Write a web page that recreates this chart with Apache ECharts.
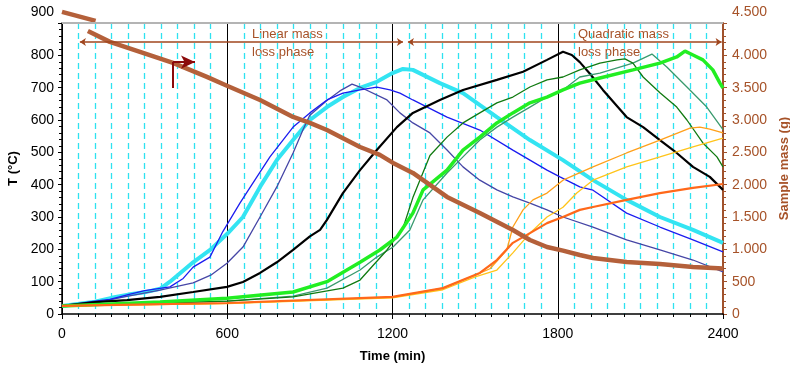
<!DOCTYPE html>
<html>
<head>
<meta charset="utf-8">
<script src="https://cdn.jsdelivr.net/npm/echarts@6/dist/echarts.min.js"></script>
<style>
  html, body { margin: 0; padding: 0; background: #fff; }
  #chart { width: 790px; height: 367px; }
</style>
</head>
<body>
<div id="chart"></div>
<script>
// temperature runs, [time (min), T (°C)]
var tempCyan = [[0,25],[120,38],[180,50],[240,60],[300,67],[356,78],[392,100],[476,160],[540,200],[600,248],[657,300],[719,393],[780,476],[839,538],[900,600],[962,640],[1020,671],[1082,699],[1143,718],[1200,745],[1238,758],[1274,755],[1372,714],[1456,683],[1579,609],[1699,538],[1819,476],[1928,414],[2050,353],[2171,300],[2291,260],[2400,220]];
var tempBlue = [[0,25],[120,40],[174,45],[240,60],[300,72],[392,84],[440,110],[476,145],[537,176],[584,255],[646,343],[693,405],[755,486],[839,578],[900,622],[962,662],[1020,683],[1082,693],[1143,702],[1191,693],[1227,683],[1274,662],[1398,609],[1517,569],[1637,507],[1761,445],[1808,424],[1880,393],[1928,383],[2050,312],[2171,269],[2291,229],[2400,192]];
var tempNavy = [[0,25],[120,35],[240,55],[356,74],[476,96],[540,120],[599,157],[657,207],[719,300],[780,393],[839,498],[875,570],[900,615],[962,660],[1009,690],[1053,711],[1082,702],[1180,662],[1227,622],[1274,591],[1336,560],[1398,507],[1456,455],[1517,414],[1579,384],[1637,362],[1699,343],[1761,322],[1819,300],[1928,269],[2050,229],[2171,198],[2291,167],[2400,130]];
var tempBlack = [[0,25],[120,37],[236,43],[356,53],[476,68],[599,84],[657,99],[719,127],[780,160],[839,198],[900,240],[937,260],[962,291],[1020,374],[1082,445],[1143,507],[1216,578],[1274,622],[1372,662],[1456,693],[1579,724],[1674,749],[1761,786],[1819,811],[1851,801],[1880,779],[1920,740],[1964,693],[2050,609],[2110,578],[2171,538],[2232,498],[2291,455],[2352,424],[2400,384]];
var tempLime = [[0,25],[356,37],[599,49],[839,68],[962,100],[1082,160],[1154,198],[1216,238],[1274,312],[1311,384],[1398,445],[1456,507],[1517,547],[1579,591],[1637,622],[1699,653],[1761,671],[1819,693],[1880,714],[1953,730],[2073,755],[2171,776],[2232,795],[2262,813],[2291,801],[2327,786],[2363,755],[2389,714],[2400,699]];
var tempDarkGreen = [[0,25],[600,40],[839,53],[1020,80],[1082,105],[1180,198],[1238,265],[1274,360],[1336,490],[1398,547],[1456,591],[1517,622],[1579,653],[1637,671],[1699,702],[1761,724],[1819,733],[1880,755],[1953,776],[2015,786],[2044,789],[2073,776],[2110,733],[2171,684],[2232,640],[2269,600],[2327,529],[2378,486],[2400,455]];
var tempTeal = [[0,25],[600,40],[839,55],[962,80],[1082,136],[1143,176],[1202,207],[1263,260],[1311,353],[1398,436],[1456,486],[1517,538],[1579,578],[1637,609],[1699,640],[1761,671],[1819,693],[1880,733],[1953,745],[2073,776],[2142,804],[2196,764],[2269,702],[2341,640],[2400,570]];
var tempOrange = [[0,25],[600,33],[1200,52],[1383,80],[1500,120],[1554,140],[1615,198],[1637,269],[1674,322],[1710,353],[1761,374],[1819,414],[1928,455],[2050,498],[2171,538],[2280,575],[2316,578],[2352,572],[2400,560]];
var tempYellow = [[0,25],[600,32],[1200,50],[1383,75],[1500,115],[1579,136],[1637,189],[1699,250],[1761,300],[1819,330],[1869,374],[1928,414],[2050,455],[2171,486],[2291,517],[2400,544]];
var tempDarkOrange = [[0,25],[600,34],[1200,53],[1383,80],[1517,127],[1579,167],[1637,220],[1699,250],[1761,281],[1819,300],[1880,322],[1928,331],[2050,353],[2171,374],[2291,390],[2400,402]];

// sample mass, [time (min), mass (g)]
var massStart = [[0,4672],[122,4533]];
var massMain = [[94,4378],[174,4208],[294,4038],[403,3883],[526,3666],[599,3530],[719,3310],[839,3048],[900,2955],[962,2846],[1082,2583],[1154,2460],[1202,2336],[1274,2181],[1398,1810],[1517,1562],[1637,1299],[1699,1145],[1761,1036],[1819,980],[1880,913],[1928,866],[2050,804],[2171,773],[2291,727],[2400,705]];

var chart = echarts.init(document.getElementById('chart'));
var font = 'Liberation Sans, Arial, sans-serif';
var brown = '#a65228';

function run(data, color, width) {
  return {
    type: 'line', data: data, showSymbol: false, yAxisIndex: 0,
    lineStyle: { color: color, width: width }, itemStyle: { color: color }
  };
}

var series = [
  run(tempCyan, '#33e4f2', 4),
  run(tempNavy, '#4646a6', 1.3),
  run(tempBlue, '#1c1cf0', 1.3),
  run(tempBlack, '#000000', 2.2),
  run(tempTeal, '#3a9a6e', 1.3),
  run(tempDarkGreen, '#117a11', 1.3),
  run(tempLime, '#22ee22', 3.5),
  run(tempOrange, '#ffa01a', 1.3),
  run(tempYellow, '#ffc41a', 1.3),
  run(tempDarkOrange, '#ff681a', 2.2)
];

// annotations: top frame line, phase arrows and the marker pointing to the mass axis
series[3].markLine = {
  silent: true,
  symbol: 'none',
  label: { show: false },
  data: [
    [{ coord: [0, 900], lineStyle: { color: '#b4b4b4', width: 2, type: 'solid' } }, { coord: [2400, 900] }],
    [{ coord: [65, 841], symbol: 'arrow', symbolSize: 6, lineStyle: { color: '#a0461e', width: 1.5, type: 'solid' } }, { coord: [1238, 841], symbol: 'arrow', symbolSize: 6 }],
    [{ coord: [1256, 841], symbol: 'arrow', symbolSize: 6, lineStyle: { color: '#a0461e', width: 1.5, type: 'solid' } }, { coord: [2395, 841], symbol: 'arrow', symbolSize: 6 }],
    [{ coord: [403, 699], lineStyle: { color: '#8b0a0a', width: 2, type: 'solid' } }, { coord: [403, 779] }],
    [{ coord: [403, 779], symbol: 'none', lineStyle: { color: '#8b0a0a', width: 2, type: 'solid' } }, { coord: [483, 779], symbol: 'arrow', symbolSize: [10, 14] }]
  ]
};

series.push({
  type: 'line', data: massStart, yAxisIndex: 1, showSymbol: false, clip: false,
  lineStyle: { color: '#b4603a', width: 4.5 }
});
series.push({
  type: 'line', data: massMain, yAxisIndex: 1, showSymbol: false, clip: false,
  lineStyle: { color: '#b4603a', width: 4.5 }
});

chart.setOption({
  animation: false,
  textStyle: { fontFamily: font },
  grid: { left: 62, right: 67, top: 23, bottom: 53, outerBoundsMode: 'none', containLabel: false },
  graphic: [
    { type: 'text', left: 252, top: 25, style: { text: 'Linear mass\nloss phase', fill: brown, font: '13px ' + font, lineHeight: 18 } },
    { type: 'text', left: 578, top: 25, style: { text: 'Quadratic mass\nloss phase', fill: brown, font: '13px ' + font, lineHeight: 18 } }
  ],
  xAxis: {
    type: 'value', min: 0, max: 2400, interval: 600,
    name: 'Time (min)', nameLocation: 'middle', nameGap: 36,
    nameTextStyle: { fontWeight: 'bold', fontSize: 13, color: '#000' },
    axisLine: { lineStyle: { color: '#000', width: 1.5 } },
    axisTick: { length: 5, lineStyle: { color: '#000' } },
    minorTick: { show: true, splitNumber: 10, length: 3, lineStyle: { color: '#000' } },
    axisLabel: { color: '#000', fontSize: 14, margin: 13, formatter: function (v) { return String(v); } },
    splitLine: { show: true, lineStyle: { color: '#000', width: 1 } },
    minorSplitLine: { show: true, lineStyle: { color: '#2ee2f0', width: 1.3, type: [6, 4] } }
  },
  yAxis: [
    {
      type: 'value', min: 0, max: 900, interval: 100,
      name: 'T (°C)', nameLocation: 'middle', nameGap: 38,
      nameTextStyle: { fontWeight: 'bold', fontSize: 13, color: '#000' },
      axisLine: { show: true, lineStyle: { color: '#000', width: 1.5 } },
      axisTick: { length: 4, lineStyle: { color: '#000' } },
      minorTick: { show: true, splitNumber: 5, length: 3, lineStyle: { color: '#000' } },
      axisLabel: {
        color: '#000', fontSize: 14, margin: 8,
        formatter: function (v) { return v === 900 ? '{top|900}' : String(v); },
        rich: { top: { fontSize: 14, color: '#000', padding: [0, 0, 22, 0] } }
      },
      splitLine: { show: false }
    },
    {
      type: 'value', min: 0, max: 4500, interval: 500,
      name: 'Sample mass (g)', nameLocation: 'middle', nameGap: 54,
      nameTextStyle: { fontWeight: 'bold', fontSize: 13, color: brown },
      axisLine: { show: true, lineStyle: { color: '#a0522d', width: 2 } },
      axisTick: { length: 4, lineStyle: { color: '#a0522d' } },
      minorTick: { show: true, splitNumber: 5, length: 3, lineStyle: { color: '#a0522d' } },
      axisLabel: {
        color: brown, fontSize: 14, margin: 9,
        formatter: function (v) {
          var s = v >= 1000 ? (v / 1000).toFixed(3) : String(v);
          return v === 4500 ? '{top|' + s + '}' : s;
        },
        rich: { top: { fontSize: 14, color: brown, padding: [0, 0, 22, 0] } }
      },
      splitLine: { show: false }
    }
  ],
  series: series
});
</script>
</body>
</html>
